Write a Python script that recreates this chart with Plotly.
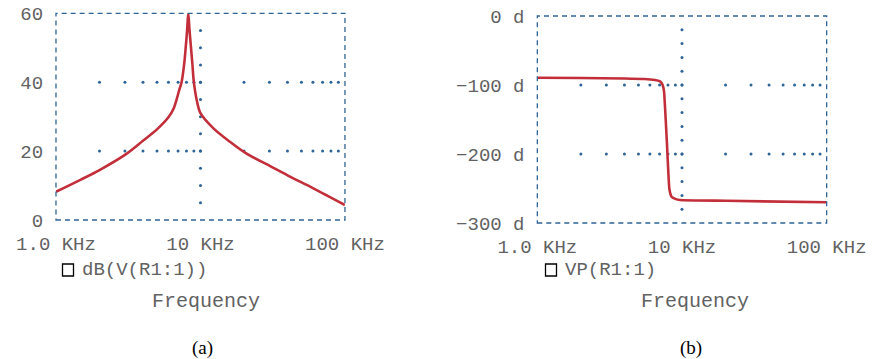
import plotly.graph_objects as go

# Frequency response (Hz)
freq_a = [1000, 1500, 2000, 3000, 4000, 5000, 6000, 6500, 6840, 7100, 7400, 7700,
          7900, 8080, 8230, 8400, 8600, 8800, 9000, 9400, 10000, 12300, 16000,
          20600, 30800, 41600, 60400, 100000]
mag_db = [8.2, 11.8, 14.5, 18.9, 23.0, 26.3, 29.8, 32.2, 35.0, 37.5, 40.0, 45.0,
          50.0, 55.0, 60.0, 55.0, 50.0, 45.0, 40.0, 35.0, 31.0, 26.6, 22.7,
          19.4, 15.5, 12.6, 9.2, 4.35]

freq_b = [1000, 2000, 4000, 5500, 6500, 7000, 7250, 7400, 7520, 7850, 8170, 8350,
          8490, 9000, 9680, 20000, 100000]
phase_deg = [-89.5, -89.8, -90.5, -91.3, -92.8, -94.5, -97.6, -102, -110, -180, -250,
             -259, -262, -265, -266.7, -267.8, -270]

x_ticks = [1e3, 1e4, 1e5]
x_labels = ["1.0 KHz", "10 KHz", "100 KHz"]
mag_ticks = [0, 20, 40, 60]
mag_labels = ["0", "20", "40", "60"]
phase_ticks = [-300, -200, -100, 0]
phase_labels = ["\u2212300 d", "\u2212200 d", "\u2212100 d", "0 d"]

RED = "#c22f3a"
BLUE = "#2f6496"
GREY = "#626262"
MONO = "Liberation Mono, Courier New, monospace"

# dotted grid: log minor positions along the inner major ticks, plus 10 kHz column
minor = [m * 10 ** d for d in (3, 4) for m in range(2, 10)] + [1e4]


def grid_dots(rows, col_vals):
    xs, ys = [], []
    for r in rows:
        xs += minor
        ys += [r] * len(minor)
    xs += [1e4] * len(col_vals)
    ys += col_vals
    return xs, ys


fig = go.Figure()

gx, gy = grid_dots([20, 40], list(range(5, 60, 5)))
fig.add_trace(go.Scatter(x=gx, y=gy, mode="markers", xaxis="x", yaxis="y",
                         marker=dict(color=BLUE, size=3), hoverinfo="skip"))
gx, gy = grid_dots([-100, -200], list(range(-280, 0, 20)))
fig.add_trace(go.Scatter(x=gx, y=gy, mode="markers", xaxis="x2", yaxis="y2",
                         marker=dict(color=BLUE, size=3), hoverinfo="skip"))

fig.add_trace(go.Scatter(x=freq_a, y=mag_db, mode="lines", xaxis="x", yaxis="y",
                         line=dict(color=RED, width=2.6, shape="spline", smoothing=0.9),
                         name="dB(V(R1:1))"))
fig.add_trace(go.Scatter(x=freq_b, y=phase_deg, mode="lines", xaxis="x2", yaxis="y2",
                         line=dict(color=RED, width=2.6, shape="spline", smoothing=0.4),
                         name="VP(R1:1)"))

xcommon = dict(type="log", range=[3, 5], tickvals=x_ticks, ticktext=x_labels,
               showgrid=False, zeroline=False, showline=False, automargin=False,
               ticks="outside", ticklen=6, tickcolor="rgba(0,0,0,0)",
               tickfont=dict(family=MONO, size=19, color=GREY))
ycommon = dict(showgrid=False, zeroline=False, showline=False, automargin=False,
               ticks="outside", ticklen=8, tickcolor="rgba(0,0,0,0)",
               tickfont=dict(family=MONO, size=19, color=GREY))

fig.update_layout(
    width=872, height=359,
    margin=dict(l=0, r=0, t=0, b=0),
    paper_bgcolor="white", plot_bgcolor="white",
    showlegend=False,
    xaxis=dict(domain=[0.0642, 0.3956], anchor="y", **xcommon),
    yaxis=dict(domain=[0.3872, 0.963], anchor="x", range=[0, 60],
               tickvals=mag_ticks, ticktext=mag_labels, **ycommon),
    xaxis2=dict(domain=[0.6162, 0.948], anchor="y2", **xcommon),
    yaxis2=dict(domain=[0.3788, 0.9554], anchor="x2", range=[-300, 0],
                tickvals=phase_ticks, ticktext=phase_labels, **ycommon),
)

# dashed frames round both plot areas
for xr, yr in (("x", "y"), ("x2", "y2")):
    fig.add_shape(type="rect", xref=xr + " domain", yref=yr + " domain",
                  x0=0, x1=1, y0=0, y1=1,
                  line=dict(color=BLUE, width=1.3, dash="5px,4px"))

# legend boxes, labels and captions
for cx, box_x, name, cap in ((206, 68, "dB(V(R1:1))", "(a)"),
                             (695, 551, "VP(R1:1)", "(b)")):
    fig.add_shape(type="rect", xref="paper", yref="paper",
                  x0=(box_x - 5.5) / 872, x1=(box_x + 5.5) / 872,
                  y0=1 - 276 / 359, y1=1 - 264 / 359,
                  line=dict(color="black", width=1.3))
    fig.add_annotation(x=(box_x + 12) / 872, y=1 - 270 / 359, xref="paper", yref="paper",
                       text=name, showarrow=False, xanchor="left", yanchor="middle",
                       font=dict(family=MONO, size=19, color=GREY))
    fig.add_annotation(x=cx / 872, y=1 - 301 / 359, xref="paper", yref="paper",
                       text="Frequency", showarrow=False, xanchor="center", yanchor="middle",
                       font=dict(family=MONO, size=20, color=GREY))
    fig.add_annotation(x=(cx - 4) / 872, y=1 - 348 / 359, xref="paper", yref="paper",
                       text=cap, showarrow=False, xanchor="center", yanchor="middle",
                       font=dict(family="Liberation Serif, Times New Roman, serif",
                                 size=19, color="black"))

# the page's default body margin would push the 872x359 figure off the window
fig.write_html("out.html", config={"displayModeBar": False},
               post_script="document.body.style.margin = '0';")
